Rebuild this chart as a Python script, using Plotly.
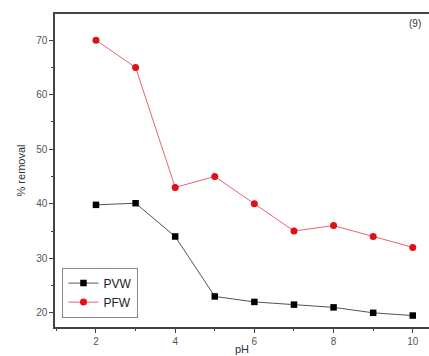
import plotly.graph_objects as go

ph = [2, 3, 4, 5, 6, 7, 8, 9, 10]
pvw = [39.8, 40.1, 34.0, 23.0, 22.0, 21.5, 21.0, 20.0, 19.5]
pfw = [70.0, 65.0, 43.0, 45.0, 40.0, 35.0, 36.0, 34.0, 32.0]
x_ticks = [2, 4, 6, 8, 10]
y_ticks = [20, 30, 40, 50, 60, 70]

fig = go.Figure()
fig.add_trace(go.Scatter(x=ph, y=pvw, mode="lines+markers", name="PVW",
                         line=dict(color="#555555", width=1),
                         marker=dict(symbol="square", size=6.5, color="black")))
fig.add_trace(go.Scatter(x=ph, y=pfw, mode="lines+markers", name="PFW",
                         line=dict(color="#f06070", width=1),
                         marker=dict(symbol="circle", size=7, color="#e0101a")))

fig.add_annotation(x=10.05, y=73.0, text="(9)", showarrow=False,
                   font=dict(size=10, color="#333333", family="Arial"))

axis_common = dict(showline=True, linecolor="#444444", linewidth=1.5,
                   ticks="outside", ticklen=4, tickcolor="#444444",
                   showgrid=False, zeroline=False,
                   tickfont=dict(size=10, color="#555555", family="Arial"))

fig.update_layout(
    width=429, height=356,
    margin=dict(l=55, r=0, t=14, b=29),
    plot_bgcolor="white", paper_bgcolor="white",
    xaxis=dict(range=[0.965, 10.41], tickvals=x_ticks, mirror=True,
               minor=dict(tickvals=[1, 3, 5, 7, 9], ticks="outside", ticklen=2, tickcolor="#444444"),
               title=dict(text="pH", standoff=0, font=dict(size=11, color="#333333", family="Arial")),
               **axis_common),
    yaxis=dict(range=[17.4, 74.8], tickvals=y_ticks, mirror=False,
               minor=dict(tickvals=[25, 35, 45, 55, 65], ticks="outside", ticklen=2, tickcolor="#444444"),
               title=dict(text="% removal", standoff=8, font=dict(size=11, color="#333333", family="Arial")),
               **axis_common),
    legend=dict(x=0.02, y=0.03, xanchor="left", yanchor="bottom",
                bgcolor="white", bordercolor="#888888", borderwidth=1,
                font=dict(size=12, color="#222222", family="Arial"),
                tracegroupgap=0),
    showlegend=True,
)

fig.write_html("out.html")
